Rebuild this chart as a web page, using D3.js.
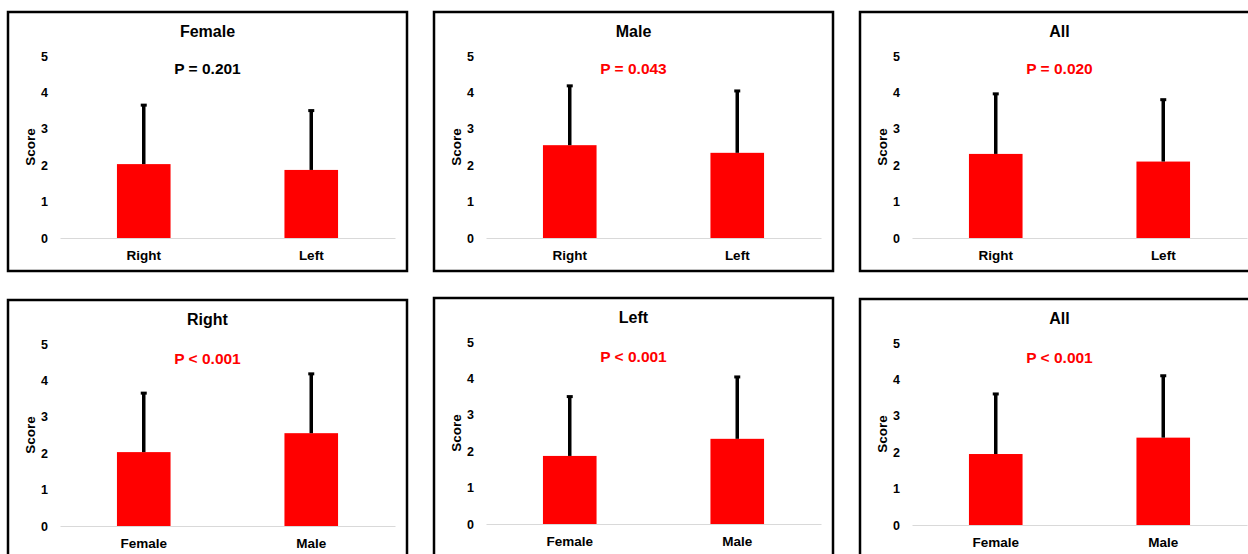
<!DOCTYPE html>
<html>
<head>
<meta charset="utf-8">
<script src="https://cdn.jsdelivr.net/npm/d3@7"></script>
<style>
  body { margin: 0; background: #fff; overflow: hidden; }
  text { font-family: "Liberation Sans", Arial, sans-serif; font-weight: bold; }
</style>
</head>
<body>
<div id="chart"></div>
<script>
// panel titles, row by row
const panelTitles = ["Female", "Male", "All", "Right", "Left", "All"];
const pSigns = ["=", "=", "=", "<", "<", "<"];
const pValues = ["0.201", "0.043", "0.020", "0.001", "0.001", "0.001"];

const topCategories = ["Right", "Left"];
const bottomCategories = ["Female", "Male"];

// mean score per bar
const meanScores = [
    [2.03, 1.87],
    [2.55, 2.34],
    [2.31, 2.10],
    [2.03, 2.55],
    [1.87, 2.34],
    [1.95, 2.40]
];
// standard deviation per bar (upper error bar only)
const sdScores = [
    [1.62, 1.63],
    [1.63, 1.70],
    [1.65, 1.70],
    [1.62, 1.63],
    [1.63, 1.70],
    [1.65, 1.70]
];
const yTicks = [0, 1, 2, 3, 4, 5];

const W = 1248, H = 554;
const panelW = 399, panelH = 259;
const panelX = [8, 434, 860];
const panelY = [[12, 12, 12], [300, 298, 299]];

const svg = d3.select("#chart").append("svg")
    .attr("width", W)
    .attr("height", H);

function drawPanel(i) {
    const col = i % 3, row = Math.floor(i / 3);
    const cats = row == 0 ? topCategories : bottomCategories;
    const data = cats.map((c, j) => ({ cat: c, mean: meanScores[i][j], sd: sdScores[i][j] }));
    const p = +pValues[i];

    const g = svg.append("g")
        .attr("transform", "translate(" + panelX[col] + "," + panelY[row][col] + ")");

    g.append("rect")
        .attr("x", 0).attr("y", 0)
        .attr("width", panelW).attr("height", panelH)
        .attr("fill", "#fff")
        .attr("stroke", "#000")
        .attr("stroke-width", 2.5);

    const left = 52, right = 387, top = 44, bottom = 226;

    let xScale = d3.scaleBand()
        .domain(cats)
        .range([left, right])
        .paddingInner(0.68)
        .paddingOuter(0.34);

    let yScale = d3.scaleLinear()
        .domain([0, 5])
        .range([bottom, top]);

    // x axis (light baseline)
    const xAxis = g.append("g")
        .attr("transform", "translate(0," + bottom + ")")
        .call(d3.axisBottom(xScale).tickSize(0).tickPadding(12));
    xAxis.select(".domain").attr("stroke", "#d9d9d9").attr("stroke-width", 1.2);
    xAxis.selectAll("text")
        .attr("fill", "#000")
        .style("font-size", "13.5px");

    // y axis (labels only)
    const yAxis = g.append("g")
        .attr("transform", "translate(" + left + ",0)")
        .call(d3.axisLeft(yScale).tickValues(yTicks).tickFormat(d3.format("d")).tickSize(0).tickPadding(12));
    yAxis.select(".domain").remove();
    yAxis.selectAll("text")
        .attr("fill", "#000")
        .style("font-size", "12.5px");

    g.append("text")
        .attr("transform", "translate(22," + ((top + bottom) / 2) + ") rotate(-90)")
        .attr("text-anchor", "middle")
        .attr("dy", "0.35em")
        .style("font-size", "13.5px")
        .text("Score");

    // bars
    g.selectAll(".bar")
        .data(data)
        .enter()
        .append("rect")
        .attr("x", d => xScale(d.cat))
        .attr("y", d => yScale(d.mean))
        .attr("width", xScale.bandwidth())
        .attr("height", d => yScale(0) - yScale(d.mean))
        .attr("fill", "#ff0000");

    // error bars
    g.selectAll(".err")
        .data(data)
        .enter()
        .append("line")
        .attr("x1", d => xScale(d.cat) + xScale.bandwidth() / 2)
        .attr("x2", d => xScale(d.cat) + xScale.bandwidth() / 2)
        .attr("y1", d => yScale(d.mean))
        .attr("y2", d => yScale(d.mean + d.sd))
        .attr("stroke", "#000")
        .attr("stroke-width", 3.5);
    g.selectAll(".cap")
        .data(data)
        .enter()
        .append("line")
        .attr("x1", d => xScale(d.cat) + xScale.bandwidth() / 2 - 3)
        .attr("x2", d => xScale(d.cat) + xScale.bandwidth() / 2 + 3)
        .attr("y1", d => yScale(d.mean + d.sd))
        .attr("y2", d => yScale(d.mean + d.sd))
        .attr("stroke", "#000")
        .attr("stroke-width", 3);

    g.append("text")
        .attr("x", panelW / 2)
        .attr("y", 24.5)
        .attr("text-anchor", "middle")
        .style("font-size", "16px")
        .text(panelTitles[i]);

    g.append("text")
        .attr("x", panelW / 2)
        .attr("y", row == 0 ? 61.5 : 63.5)
        .attr("text-anchor", "middle")
        .attr("fill", p < 0.05 ? "#ff0000" : "#000")
        .style("font-size", "15.5px")
        .text("P " + pSigns[i] + " " + pValues[i]);
}

for (let i = 0; i < panelTitles.length; i++) {
    drawPanel(i);
}
</script>
</body>
</html>
